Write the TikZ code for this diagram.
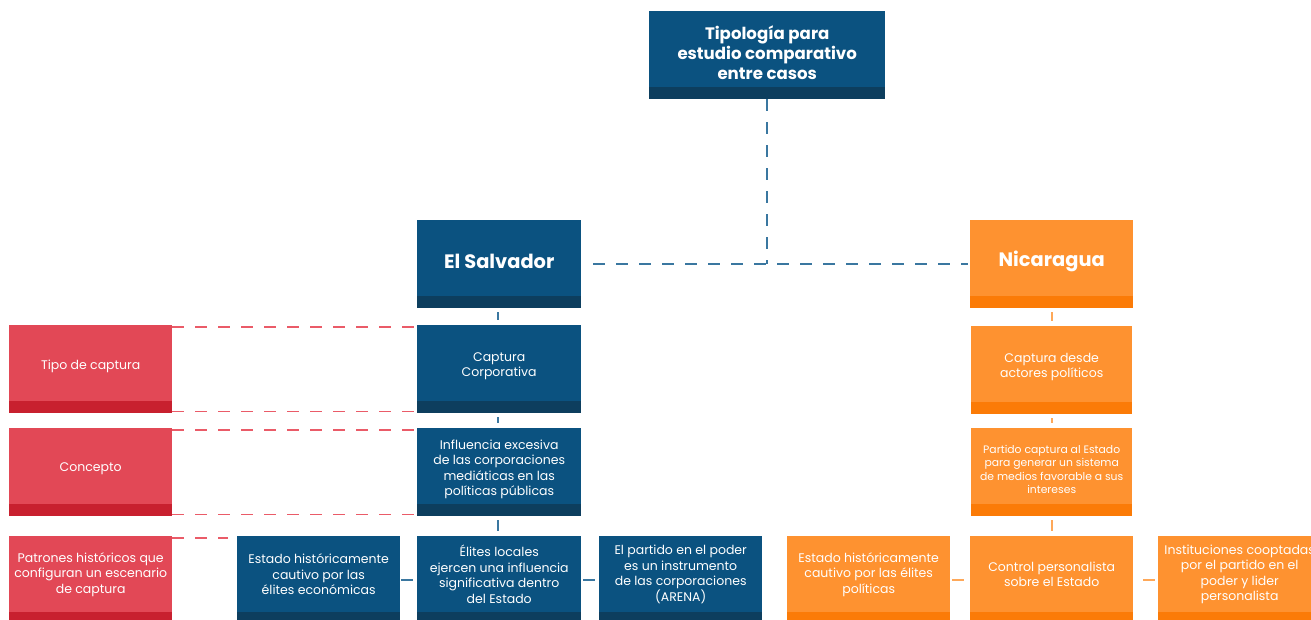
\documentclass[tikz,border=0pt]{standalone}
\usepackage{fontspec}
\setmainfont{Poppins}
\definecolor{cblue}{HTML}{0B5280}
\definecolor{cbluedark}{HTML}{0D3E5E}
\definecolor{cred}{HTML}{E24856}
\definecolor{creddark}{HTML}{C8202F}
\definecolor{corange}{HTML}{FE9230}
\definecolor{corangedark}{HTML}{FB7B07}
\definecolor{lblue}{HTML}{3A77A0}
\definecolor{lred}{HTML}{EA5B68}
\definecolor{lorange}{HTML}{FBA04F}
\begin{document}
\begin{tikzpicture}[x=1pt,y=-1pt,
  box/.style={fill=#1, draw=none, inner sep=0pt, anchor=north west,
    minimum width=163pt, minimum height=88pt,
    path picture={\fill[#1dark] (path picture bounding box.south west) rectangle ([yshift=12pt]path picture bounding box.south east);}},
  txt/.style={text=white, align=center, inner sep=0pt, font=\fontsize{12.5}{15.5}\selectfont},
  small/.style={txt, font=\fontsize{10.8}{13.5}\selectfont},
  title/.style={txt, font=\fontsize{16.6}{20}\selectfont\bfseries},
  big/.style={txt, font=\fontsize{19.4}{23}\selectfont\bfseries},
  bdash/.style={draw=lblue, line width=1.8pt, dash pattern=on 12pt off 11pt},
  rdash/.style={draw=lred, line width=1.5pt, dash pattern=on 12pt off 11pt},
  odash/.style={draw=corange!80!white, line width=1.8pt, dash pattern=on 12pt off 11pt}]
\useasboundingbox (0,0) rectangle (1311,619);
\clip (0,0) rectangle (1311,619);

% boxes
\node[box=cblue, minimum width=236pt] (top) at (649,11) {};
\node[title] (topt) at ([yshift=3pt]top.center) {Tipología para\\estudio comparativo\\entre casos};

\node[box=cblue, minimum width=164pt] (es) at (417,220) {};
\node[big] (est) at ([yshift=3pt]es.center) {El Salvador};
\node[box=corange] (nic) at (970,220) {};
\node[big] (nict) at ([yshift=3pt]nic.center) {Nicaragua};

\node[box=cred] (tipo) at (9,325) {};
\node[txt] (tipot) at ([yshift=3pt]tipo.center) {Tipo de captura};
\node[box=cblue, minimum width=164pt] (cc) at (417,325) {};
\node[txt] (cct) at ([yshift=3pt]cc.center) {Captura\\Corporativa};
\node[box=corange, minimum width=161pt] (cda) at (971,326) {};
\node[txt] (cdat) at ([yshift=3pt]cda.center) {Captura desde\\actores políticos};

\node[box=cred] (conc) at (9,428) {};
\node[txt] (conct) at ([yshift=3pt]conc.center) {Concepto};
\node[box=cblue, minimum width=164pt] (inf) at (417,428) {};
\node[txt] (inft) at ([yshift=3pt]inf.center) {Influencia excesiva\\de las corporaciones\\mediáticas en las\\políticas públicas};
\node[box=corange, minimum width=161pt] (pc) at (971,428) {};
\node[small] (pct) at ([yshift=3pt]pc.center) {Partido captura al Estado\\para generar un sistema\\de medios favorable a sus\\intereses};

\node[box=cred] (pat) at (9,536) {};
\node[txt] (patt) at ([yshift=6pt]pat.center) {Patrones históricos que\\configuran un escenario\\de captura};
\node[box=cblue] (eh) at (237,536) {};
\node[txt] (eht) at ([yshift=6pt]eh.center) {Estado históricamente\\cautivo por las\\élites económicas};
\node[box=cblue, minimum width=164pt] (el) at (417,536) {};
\node[txt] (elt) at ([yshift=6pt]el.center) {Élites locales\\ejercen una influencia\\significativa dentro\\del Estado};
\node[box=cblue] (ep) at (599,536) {};
\node[txt] (ept) at ([yshift=6pt]ep.center) {El partido en el poder\\es un instrumento\\de las corporaciones\\(ARENA)};
\node[box=corange] (eho) at (787,536) {};
\node[txt] (ehot) at ([yshift=6pt]eho.center) {Estado históricamente\\cautivo por las élites\\políticas};
\node[box=corange] (cp) at (970,536) {};
\node[txt] (cpt) at ([yshift=6pt]cp.center) {Control personalista\\sobre el Estado};
\node[box=corange] (inst) at (1158,536) {};
\node[txt] (instt) at ([yshift=6pt]inst.center) {Instituciones cooptadas\\por el partido en el\\poder y lider\\personalista};

% top connectors
\coordinate (j) at (top.south |- 0,264);
\draw[bdash] (top.south) -- (j);
\draw[bdash, shorten <=12pt, shorten >=2pt] (es.east |- j) -- (nic.west |- j);

% vertical short connectors
\draw[bdash, shorten <=4pt, shorten >=5pt] ([xshift=-1pt]es.south) -- ([xshift=-1pt]cc.north);
\draw[bdash, shorten <=4pt, shorten >=5pt] ([xshift=-1pt]cc.south) -- ([xshift=-1pt]inf.north);
\draw[bdash, shorten <=4pt, shorten >=5pt] ([xshift=-1pt]inf.south) -- ([xshift=-1pt]el.north);
\draw[odash, shorten <=4pt, shorten >=5pt] (nic.south) -- (nic.south |- cda.north);
\draw[odash, shorten <=4pt, shorten >=5pt] (cda.south) -- (pc.north);
\draw[odash, shorten <=4pt, shorten >=5pt] (pc.south) -- (pc.south |- cp.north);

% red guide lines
\draw[rdash] ([yshift=-2pt]tipo.north east) -- ([yshift=-2pt]cc.north west);
\draw[rdash] ([yshift=2pt]tipo.south east) -- ([yshift=2pt]cc.south west);
\draw[rdash] ([yshift=-2pt]conc.north east) -- ([yshift=-2pt]inf.north west);
\draw[rdash] ([yshift=2pt]conc.south east) -- ([yshift=2pt]inf.south west);
\draw[rdash, shorten >=9pt] ([yshift=-2pt]pat.north east) -- ([yshift=-2pt]eh.north west);

% bottom row connectors
\coordinate (rowy) at (0,580);
\draw[bdash, shorten <=1pt] (eh.east |- rowy) -- (el.west |- rowy);
\draw[bdash, shorten <=2pt] (el.east |- rowy) -- (ep.west |- rowy);
\draw[odash, shorten <=2pt] (eho.east |- rowy) -- (cp.west |- rowy);
\draw[odash, shorten <=10pt] (cp.east |- rowy) -- (inst.west |- rowy);
\end{tikzpicture}
\end{document}
